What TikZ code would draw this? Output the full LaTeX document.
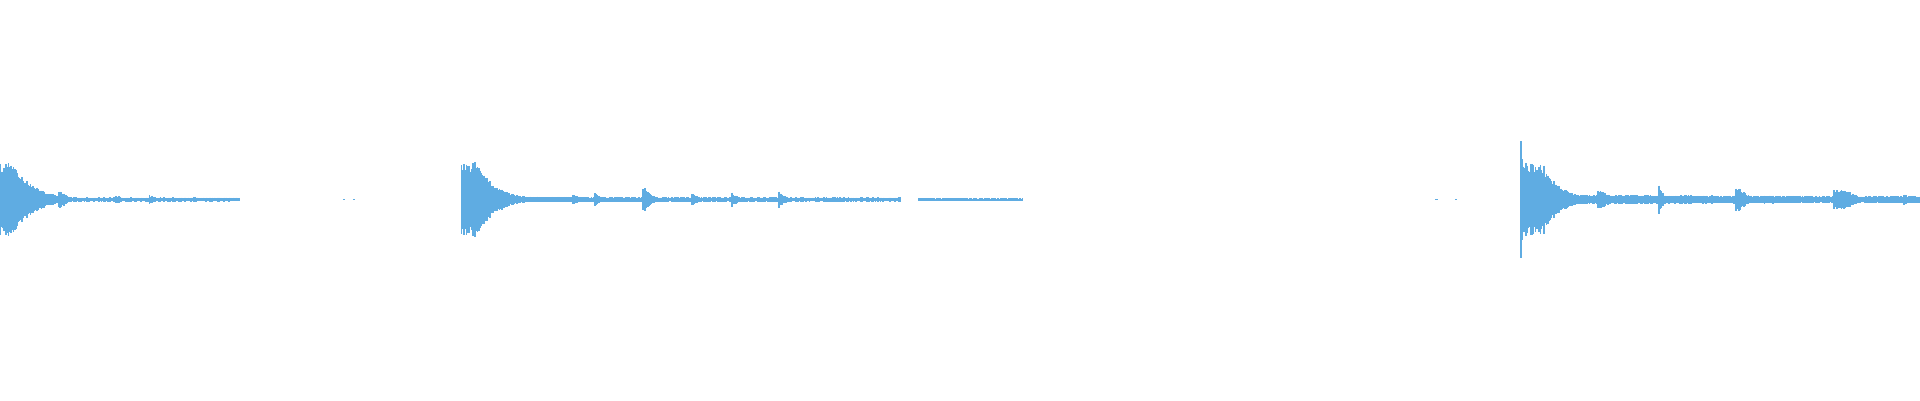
\documentclass[tikz,border=0pt]{standalone}
\usetikzlibrary{positioning}
\definecolor{wave}{RGB}{95,172,226}

\begin{document}
\begin{tikzpicture}
  [
    x=0.01cm, y=-0.01cm,
    spike/.style = {draw=wave, line width=0.014cm},
    blip/.style  = {fill=wave},
  ]

%Frame of the whole strip
\useasboundingbox (0,0) rectangle (1568,327);
\pgfmathsetseed{7}

%Centre line of the signal
\def \yc{163}

%Bursts: start / peak / hold / decay / length
\foreach \xo/\A/\hold/\tau/\len in {
  0/30/12/16/60, 48/7/2/6/20, 0/2/0/1000/195, 95/4/0/5/15, 122/4/0/5/15, 158/3/0/5/15,
  377/31/12/16/60, 377/2.5/0/1000/358, 468/5/0/6/20, 486/6/0/6/20, 525/10/2/6/25,
  565/6/0/6/20, 598/6/0/6/20, 636/7/0/6/20, 750/1.2/0/1000/85,
  1242/50/0/3/6, 1242/30/18/14/60, 1242/4/0/1000/326, 1305/8/3/8/30, 1355/15/0/3/15,
  1418/9/3/8/25, 1498/8/10/10/45, 1555/5/0/6/13}
{
  \foreach \d in {0,...,\len}
  {
    \pgfmathsetmacro{\amp}{max(0.6,\A*exp(-max(0,\d-\hold)/\tau)*(0.72+0.28*rnd))}
    \draw[spike] (\xo+\d,\yc-\amp) -- (\xo+\d,\yc+\amp);
  }
}

%Lone specks
\foreach \x in {280,288,1172,1188}
{
  \fill[blip] (\x,\yc-0.6) rectangle +(2,1.2);
}
\end{tikzpicture}
\end{document}
